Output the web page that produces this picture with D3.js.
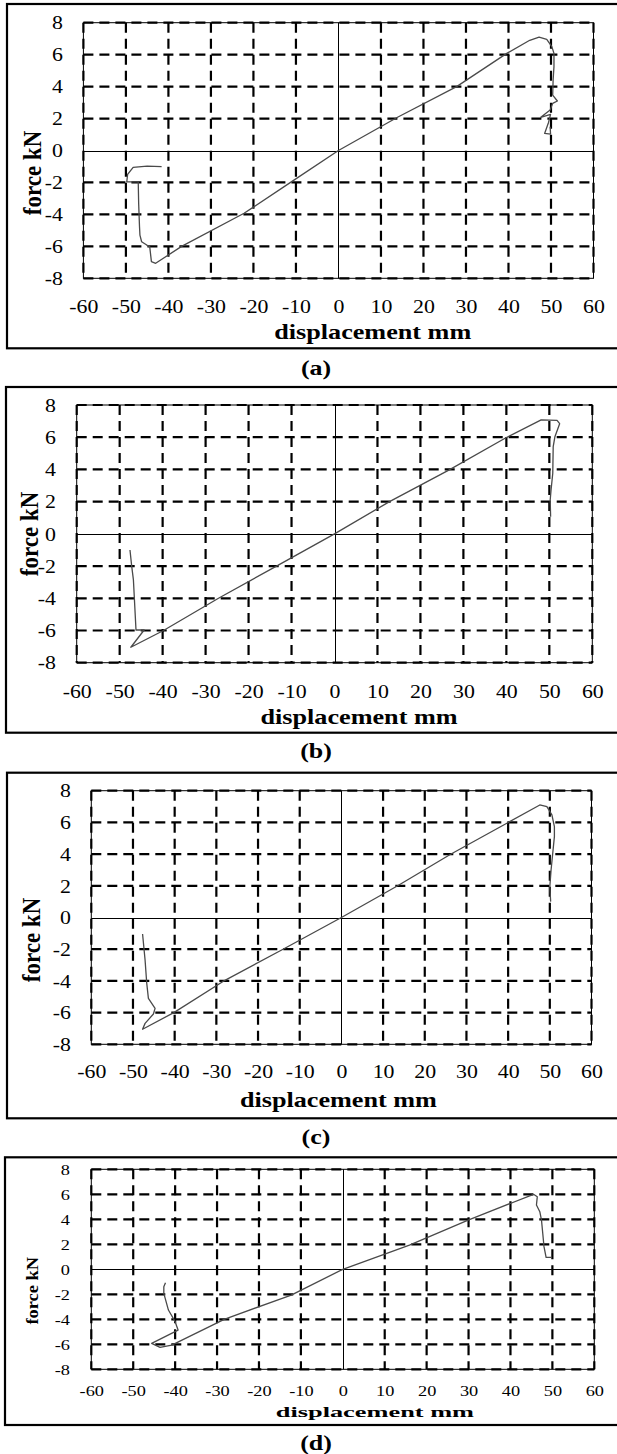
<!DOCTYPE html>
<html>
<head>
<meta charset="utf-8">
<script src="https://cdn.jsdelivr.net/npm/d3@7"></script>
<style>
  body { margin: 0; background: #fff; }
  svg { display: block; }
</style>
</head>
<body>
<div id="chart"></div>
<script>
// ticks shared by all panels
const xTicks = [-60, -50, -40, -30, -20, -10, 0, 10, 20, 30, 40, 50, 60];
const yTicks = [-8, -6, -4, -2, 0, 2, 4, 6, 8];

// (a) displacement mm / force kN
const dispA = [-41.6, -45.0, -48.3, -49.6, -49.8, -47.1, -47.0, -46.8, -46.7, -46.3, -45.1, -44.4, -44.0, -43.0,
  -36.9, -22.2, -11.0, 0, 13.9, 27.8, 39.6, 45.0, 47.2, 49.0, 50.2, 50.7, 50.7, 50.5, 50.4,
  51.5, 50.4, 49.8, 47.6, 49.9, 49.4, 48.5, 49.9, 49.8];
const forceA = [-1.01, -0.98, -1.05, -1.5, -1.97, -1.97, -3.31, -4.77, -5.3, -5.71, -5.92, -6.02, -6.96, -7.06,
  -6.0, -3.93, -1.95, 0, 2.08, 4.0, 6.08, 6.9, 7.1, 6.96, 6.5, 6.08, 5.25, 4.41, 3.47,
  3.10, 2.95, 2.53, 2.08, 2.26, 1.74, 1.07, 1.03, 1.49];

// (b)
const dispB = [-47.6, -47.2, -46.8, -46.2, -44.3, -47.4, -39.8, -27.0, -13.5, 0, 12.8, 26.6, 39.8, 48.1,
  51.8, 52.4, 51.3, 50.9, 50.8, 50.4, 50.2, 50.3];
const forceB = [-1.0, -2.0, -2.86, -5.97, -5.97, -7.04, -6.0, -4.0, -2.0, 0, 2.0, 3.96, 5.95, 7.08,
  7.04, 6.84, 6.03, 5.41, 3.76, 2.72, 2.10, 1.06];

// (c)
const dispC = [-47.7, -47.1, -46.7, -46.3, -44.7, -45.1, -47.1, -47.7, -40.2, -28.5, -14.0, 0, 13.5, 26.2,
  39.9, 47.6, 49.3, 50.5, 51.1, 51.1, 50.7, 50.3, 50.0, 50.2];
const forceC = [-1.04, -2.68, -4.15, -5.1, -5.73, -6.09, -6.68, -7.05, -6.0, -4.05, -2.0, 0, 2.0, 3.99,
  5.98, 7.1, 6.99, 6.47, 5.73, 5.1, 4.05, 3.0, 1.94, 1.0];

// (d)
const dispD = [-42.3, -42.7, -42.7, -41.6, -40.0, -39.3, -45.6, -43.6, -40.8, -28.3, -12.3, 0, 15.9, 29.9,
  45.5, 46.4, 46.2, 47.0, 47.4, 47.7, 48.0, 48.5, 49.8];
const forceD = [-1.07, -1.39, -1.92, -3.26, -4.19, -4.86, -5.92, -6.24, -6.06, -4.0, -2.06, 0, 1.94, 3.94,
  6.0, 5.81, 5.14, 4.61, 3.94, 2.88, 1.81, 0.96, 0.96];

const captions = ["(a)", "(b)", "(c)", "(d)"];
const xTitle = "displacement mm";
const yTitle = "force kN";

// pixel layout of each panel
const layout = [
  { box: [7, 4, 619, 348.3], plot: [83.4, 22.7, 593.5, 278.3], yTickRight: 63, xTickY: 306.7,
    titleX: 372.7, titleY: 331.7, yTitleX: 33.5, yTitleY: 173, capY: 368,
    tick: 19, tickSx: 1.15, title: 22, titleSx: 1.19, yt: 23, ytSx: 1.05, ytSy: 1 },
  { box: [6, 387, 619, 732.7], plot: [76.7, 405, 592.3, 662.7], yTickRight: 56, xTickY: 691.7,
    titleX: 359, titleY: 716.7, yTitleX: 30.5, yTitleY: 534, capY: 751,
    tick: 19, tickSx: 1.15, title: 22, titleSx: 1.19, yt: 23, ytSx: 1.05, ytSy: 1 },
  { box: [7, 772.7, 619, 1118.3], plot: [91.3, 790.7, 591.5, 1044.3], yTickRight: 71, xTickY: 1071.7,
    titleX: 338.4, titleY: 1100, yTitleX: 32, yTitleY: 940, capY: 1136.7,
    tick: 19, tickSx: 1.15, title: 22, titleSx: 1.19, yt: 23, ytSx: 1.05, ytSy: 1 },
  { box: [5, 1157.3, 619, 1425], plot: [91.3, 1169.3, 594.3, 1369.3], yTickRight: 70, xTickY: 1390.7,
    titleX: 374.9, titleY: 1411.7, yTitleX: 32.5, yTitleY: 1290.8, capY: 1443,
    tick: 15, tickSx: 1.22, title: 14.8, titleSx: 1.78, yt: 16, ytSx: 1.0, ytSy: 1.15 }
];

const series = [[dispA, forceA], [dispB, forceB], [dispC, forceC], [dispD, forceD]];
const serif = "Liberation Serif";

let svg = d3.select("#chart").append("svg").attr("width", 617).attr("height", 1454);

function label(g, x, y, str, size, sx, sy, rotate) {
  g.append("text")
    .attr("transform", `translate(${x},${y}) scale(${sx},${sy})` + (rotate ? " rotate(-90)" : ""))
    .attr("text-anchor", "middle")
    .attr("dy", "0.33em")
    .attr("font-family", serif)
    .attr("font-weight", "bold")
    .attr("font-size", size)
    .attr("fill", "#000")
    .text(str);
}

layout.forEach((L, i) => {
  let g = svg.append("g");
  let [px0, py0, px1, py1] = L.plot;
  let x = d3.scaleLinear().domain([-60, 60]).range([px0, px1]);
  let y = d3.scaleLinear().domain([-8, 8]).range([py1, py0]);

  // outer frame
  g.append("rect")
    .attr("x", L.box[0]).attr("y", L.box[1])
    .attr("width", L.box[2] - L.box[0]).attr("height", L.box[3] - L.box[1])
    .attr("fill", "none").attr("stroke", "#000").attr("stroke-width", 2.2);

  // dashed grid
  g.selectAll(".vgrid")
    .data(xTicks.filter((t) => t !== 0))
    .enter()
    .append("line")
    .attr("x1", (d) => x(d)).attr("x2", (d) => x(d))
    .attr("y1", py0).attr("y2", py1)
    .attr("stroke", "#000").attr("stroke-width", 2.2).attr("stroke-dasharray", "10,6");
  g.selectAll(".hgrid")
    .data(yTicks.filter((t) => t !== 0))
    .enter()
    .append("line")
    .attr("x1", px0).attr("x2", px1)
    .attr("y1", (d) => y(d)).attr("y2", (d) => y(d))
    .attr("stroke", "#000").attr("stroke-width", 2.2).attr("stroke-dasharray", "10,6");

  // plot area outline and zero axes
  g.append("rect")
    .attr("x", px0).attr("y", py0).attr("width", px1 - px0).attr("height", py1 - py0)
    .attr("fill", "none").attr("stroke", "#000").attr("stroke-width", 1);
  let zx = Math.round(x(0)) + 0.5;
  let zy = Math.round(y(0)) + 0.5;
  g.append("line")
    .attr("x1", zx).attr("x2", zx).attr("y1", py0).attr("y2", py1)
    .attr("stroke", "#000").attr("stroke-width", 1);
  g.append("line")
    .attr("x1", px0).attr("x2", px1).attr("y1", zy).attr("y2", zy)
    .attr("stroke", "#000").attr("stroke-width", 1);

  // curve
  let [xs, ys] = series[i];
  let pts = xs.map((d, j) => [d, ys[j]]);
  g.append("path")
    .datum(pts)
    .attr("fill", "none")
    .attr("stroke", "#4a4a4a")
    .attr("stroke-width", 1.3)
    .attr("stroke-linejoin", "round")
    .attr("d", d3.line().x((d) => x(d[0])).y((d) => y(d[1])));

  // tick labels (plain hyphen for negatives, as in the original)
  let fmt = (d) => String(d);
  let xAxis = d3.axisBottom(x).tickValues(xTicks).tickSize(0).tickPadding(0).tickFormat(fmt);
  let xa = g.append("g").attr("transform", `translate(0,${L.xTickY})`).call(xAxis);
  xa.select(".domain").remove();
  xa.selectAll("line").remove();
  xa.selectAll("text")
    .attr("y", 0).attr("dy", "0.33em")
    .attr("transform", `scale(${L.tickSx},1)`)
    .attr("font-family", serif).attr("font-size", L.tick).attr("fill", "#000");

  let yAxis = d3.axisLeft(y).tickValues(yTicks).tickSize(0).tickPadding(0).tickFormat(fmt);
  let ya = g.append("g").attr("transform", `translate(${L.yTickRight},0)`).call(yAxis);
  ya.select(".domain").remove();
  ya.selectAll("line").remove();
  ya.selectAll("text")
    .attr("x", 0).attr("dy", "0.33em")
    .attr("transform", `scale(${L.tickSx},1)`)
    .attr("font-family", serif).attr("font-size", L.tick).attr("fill", "#000");

  // titles
  label(g, L.titleX, L.titleY, xTitle, L.title, L.titleSx, 1, false);
  label(g, L.yTitleX, L.yTitleY, yTitle, L.yt, L.ytSx, L.ytSy, true);
  label(g, 316, L.capY, captions[i], 22, 1.18, 1, false);
});
</script>
</body>
</html>
